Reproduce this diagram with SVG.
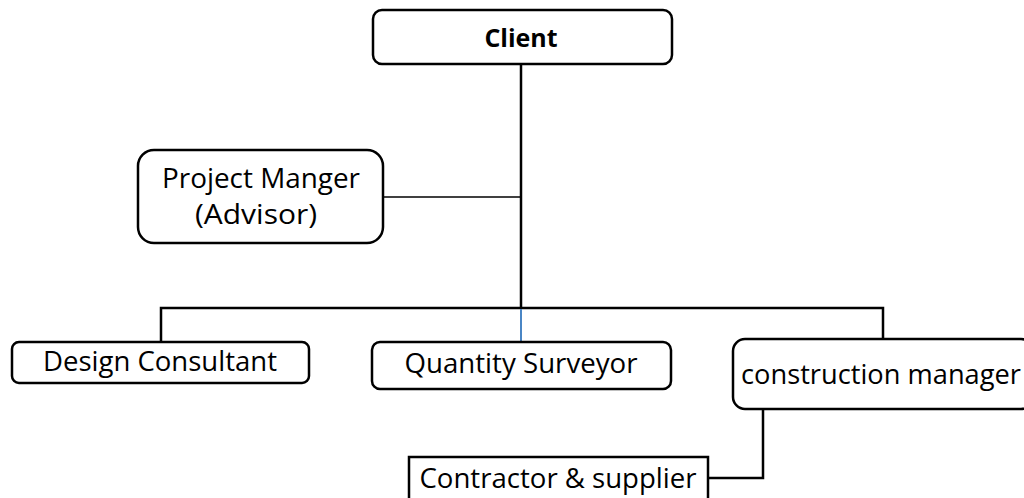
<svg xmlns="http://www.w3.org/2000/svg" width="1024" height="498" viewBox="0 0 1024 498">
<style>
.box{fill:#fff;stroke:#000;stroke-width:2.5}
.t{font-family:"Open Sans","Liberation Sans",sans-serif;font-size:27px;fill:#000;text-anchor:middle}
.b{font-weight:bold;font-size:25px}
.c{fill:none;stroke:#000;stroke-width:2.5}
</style>
<rect width="1024" height="498" fill="#fff"/>
<g id="connectors">
<line x1="521" y1="64" x2="521" y2="308" class="c"/>
<line x1="383" y1="197" x2="521" y2="197" stroke="#000" stroke-width="1.5"/>
<polyline points="161,341 161,308 883,308 883,339" class="c"/>
<line x1="521" y1="309" x2="521" y2="341" stroke="#4a86c5" stroke-width="2"/>
<polyline points="763,409 763,478 708,478" class="c"/>
</g>
<g id="client">
<rect x="373" y="10" width="299" height="54" rx="9" class="box"/>
<text x="521" y="47" class="t b">Client</text>
</g>
<g id="project-manager">
<rect x="138" y="150" width="245" height="93" rx="16" class="box"/>
<text x="261" y="188" class="t" textLength="198" lengthAdjust="spacingAndGlyphs">Project Manger</text>
<text x="256" y="224" class="t" textLength="122" lengthAdjust="spacingAndGlyphs">(Advisor)</text>
</g>
<g id="design-consultant">
<rect x="12" y="342" width="297" height="41" rx="7" class="box"/>
<text x="160" y="371" class="t" textLength="234" lengthAdjust="spacingAndGlyphs">Design Consultant</text>
</g>
<g id="quantity-surveyor">
<rect x="372" y="342" width="299" height="47" rx="8" class="box"/>
<text x="521" y="373" class="t" textLength="233" lengthAdjust="spacingAndGlyphs">Quantity Surveyor</text>
</g>
<g id="construction-manager">
<rect x="733" y="339" width="300" height="70" rx="12" class="box"/>
<text x="881" y="384" class="t" textLength="280" lengthAdjust="spacingAndGlyphs">construction manager</text>
</g>
<g id="contractor">
<rect x="409" y="457" width="299" height="50" class="box"/>
<text x="558" y="488" class="t" textLength="277" lengthAdjust="spacingAndGlyphs">Contractor &amp; supplier</text>
</g>
</svg>
